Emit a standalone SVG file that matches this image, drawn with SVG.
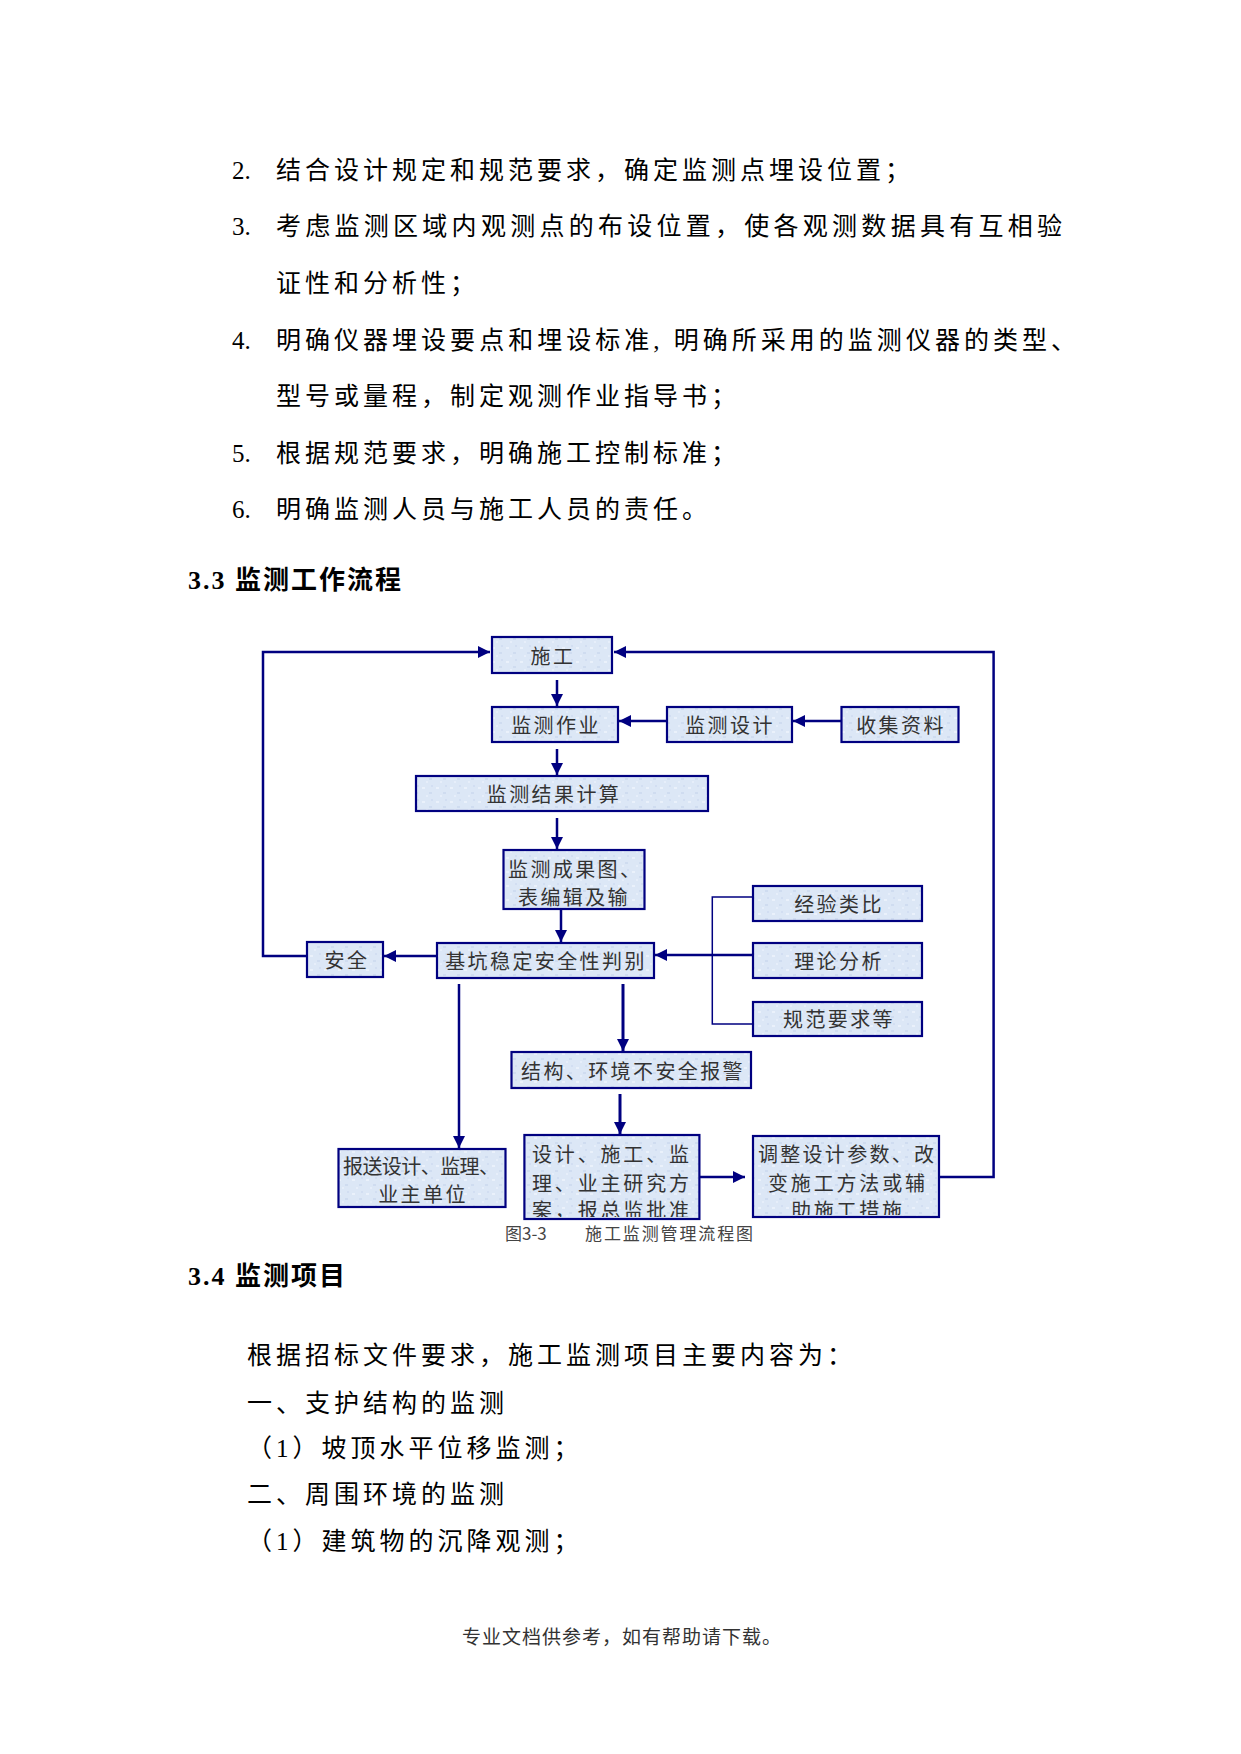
<svg xmlns="http://www.w3.org/2000/svg" width="1241" height="1754" viewBox="0 0 1241 1754">
<defs>
<style>
.body{font-family:"Liberation Serif","Noto Sans CJK SC",serif;font-size:25px;fill:#000;letter-spacing:4px;dominant-baseline:central}
.num{font-family:"Liberation Serif",serif;font-size:25px;fill:#000;dominant-baseline:central}
.head{font-family:"Liberation Serif","Noto Sans CJK SC",serif;font-size:26px;font-weight:700;fill:#000;letter-spacing:2px;dominant-baseline:central}
.box{fill:url(#tex);stroke:#000080;stroke-width:2.2}
.bt{font-family:"Noto Sans CJK SC",sans-serif;font-size:20px;fill:#333;letter-spacing:2.4px;dominant-baseline:central}
.c{text-anchor:middle}
.ln{fill:none;stroke:#000080;stroke-width:2.5}
.thin{fill:none;stroke:#000080;stroke-width:1.5}
.cap{font-family:"Noto Sans CJK SC",sans-serif;font-size:17px;fill:#444;dominant-baseline:central}
.foot{font-family:"Noto Sans CJK SC",sans-serif;font-size:19px;fill:#333;letter-spacing:1px;dominant-baseline:central}
</style>
<pattern id="tex" width="14" height="14" patternUnits="userSpaceOnUse">
<rect width="14" height="14" fill="#dce7f6"/>
<rect x="2" y="3" width="3" height="2" fill="#eaf1fb"/>
<rect x="9" y="8" width="3" height="2" fill="#cfdcf0"/>
<rect x="6" y="11" width="2" height="2" fill="#e6eefa"/>
<rect x="11" y="1" width="2" height="2" fill="#d2def2"/>
</pattern>
<marker id="ah" markerWidth="12" markerHeight="12" refX="12" refY="6" orient="auto" markerUnits="userSpaceOnUse">
<path d="M0,0 L12,6 L0,12 z" fill="#000080"/>
</marker>
<clipPath id="clipA"><rect x="524" y="1135" width="175" height="82"/></clipPath>
<clipPath id="clipB"><rect x="753" y="1136" width="186" height="79"/></clipPath>
</defs>
<rect width="1241" height="1754" fill="#fff"/>

<g id="text-top">
<text class="num" x="232" y="170">2.</text>
<text class="body" x="276" y="170">结合设计规定和规范要求，确定监测点埋设位置；</text>
<text class="num" x="232" y="226">3.</text>
<text class="body" x="276" y="226" textLength="786" lengthAdjust="spacing" style="letter-spacing:0">考虑监测区域内观测点的布设位置，使各观测数据具有互相验</text>
<text class="body" x="276" y="283">证性和分析性；</text>
<text class="num" x="232" y="340">4.</text>
<text class="body" x="276" y="340" textLength="800" lengthAdjust="spacing" style="letter-spacing:0">明确仪器埋设要点和埋设标准, 明确所采用的监测仪器的类型、</text>
<text class="body" x="276" y="396">型号或量程，制定观测作业指导书；</text>
<text class="num" x="232" y="453">5.</text>
<text class="body" x="276" y="453">根据规范要求，明确施工控制标准；</text>
<text class="num" x="232" y="509">6.</text>
<text class="body" x="276" y="509">明确监测人员与施工人员的责任。</text>
<text class="head" x="188" y="580">3.3 监测工作流程</text>
</g>

<g id="connectors">
<path class="ln" d="M307,956 H263 V652 H490" marker-end="url(#ah)"/>
<path class="ln" d="M939,1177 H993.6 V652 H614" marker-end="url(#ah)"/>
<path class="ln" d="M557,680 V706" marker-end="url(#ah)"/>
<path class="ln" d="M557,749 V775" marker-end="url(#ah)"/>
<path class="ln" d="M557,818 V849" marker-end="url(#ah)"/>
<path class="ln" d="M561,909 V942" marker-end="url(#ah)"/>
<path class="ln" d="M666.6,721 H619" marker-end="url(#ah)"/>
<path class="ln" d="M841.5,721 H793" marker-end="url(#ah)"/>
<path class="ln" d="M753,955 H655" marker-end="url(#ah)"/>
<path class="ln" d="M437,956 H384" marker-end="url(#ah)"/>
<path class="thin" d="M753,897 H712.3 V1024 H753"/>
<path class="ln" d="M459,984 V1148" marker-end="url(#ah)"/>
<path class="ln" d="M623,984 V1051" style="stroke-width:3" marker-end="url(#ah)"/>
<path class="ln" d="M620,1094 V1134" style="stroke-width:3" marker-end="url(#ah)"/>
<path class="ln" d="M699.4,1177 H745" marker-end="url(#ah)"/>
</g>

<g id="n-shigong"><rect class="box" x="492" y="637" width="120" height="36"/><text class="bt c" x="553" y="655">施工</text></g>
<g id="n-zuoye"><rect class="box" x="492" y="707" width="126" height="35"/><text class="bt c" x="556" y="724">监测作业</text></g>
<g id="n-sheji"><rect class="box" x="667" y="707" width="125" height="35"/><text class="bt c" x="730" y="724">监测设计</text></g>
<g id="n-ziliao"><rect class="box" x="841.5" y="707" width="117" height="35"/><text class="bt c" x="901" y="724">收集资料</text></g>
<g id="n-jisuan"><rect class="box" x="416" y="776" width="292" height="35"/><text class="bt c" x="554" y="793">监测结果计算</text></g>
<g id="n-chengguo"><rect class="box" x="503.5" y="850" width="141" height="59"/><text class="bt" x="508" y="868">监测成果图、</text><text class="bt" x="518" y="896">表编辑及输</text></g>
<g id="n-jingyan"><rect class="box" x="753" y="886" width="169" height="35"/><text class="bt c" x="839" y="903">经验类比</text></g>
<g id="n-lilun"><rect class="box" x="753" y="943" width="169" height="35"/><text class="bt c" x="839" y="960">理论分析</text></g>
<g id="n-guifan"><rect class="box" x="753" y="1002" width="169" height="34"/><text class="bt c" x="839" y="1018">规范要求等</text></g>
<g id="n-anquan"><rect class="box" x="307" y="942" width="76" height="35"/><text class="bt c" x="347" y="959">安全</text></g>
<g id="n-panbie"><rect class="box" x="437" y="943" width="217" height="35"/><text class="bt c" x="546" y="960">基坑稳定安全性判别</text></g>
<g id="n-baojing"><rect class="box" x="511.5" y="1052" width="239.5" height="36"/><text class="bt c" x="633" y="1070">结构、环境不安全报警</text></g>
<g id="n-baosong"><rect class="box" x="338.5" y="1149" width="167" height="58"/><text class="bt" x="343" y="1165" textLength="156" lengthAdjust="spacing" style="letter-spacing:0">报送设计、监理、</text><text class="bt c" x="423" y="1193">业主单位</text></g>
<g id="n-yanjiu"><rect class="box" x="524.4" y="1135" width="175" height="84"/><g clip-path="url(#clipA)"><text class="bt" x="532" y="1153" textLength="157" lengthAdjust="spacing" style="letter-spacing:0">设计、施工、监</text><text class="bt" x="532" y="1182" textLength="157" lengthAdjust="spacing" style="letter-spacing:0">理、业主研究方</text><text class="bt" x="532" y="1209" textLength="157" lengthAdjust="spacing" style="letter-spacing:0">案，报总监批准</text></g></g>
<g id="n-tiaozheng"><rect class="box" x="753" y="1136" width="186" height="81"/><g clip-path="url(#clipB)"><text class="bt" x="758" y="1153" textLength="176" lengthAdjust="spacing" style="letter-spacing:0">调整设计参数、改</text><text class="bt" x="768" y="1182" textLength="157" lengthAdjust="spacing" style="letter-spacing:0">变施工方法或辅</text><text class="bt" x="791" y="1209" textLength="111" lengthAdjust="spacing" style="letter-spacing:0">助施工措施</text></g></g>

<g id="caption">
<text class="cap" x="505" y="1232">图3-3</text>
<text class="cap" x="585" y="1232" textLength="168" lengthAdjust="spacing">施工监测管理流程图</text>
</g>

<g id="text-bottom">
<text class="head" x="188" y="1276">3.4 监测项目</text>
<text class="body" x="247" y="1355">根据招标文件要求，施工监测项目主要内容为：</text>
<text class="body" x="247" y="1403">一、支护结构的监测</text>
<text class="body" x="247" y="1448">（1）坡顶水平位移监测；</text>
<text class="body" x="247" y="1494">二、周围环境的监测</text>
<text class="body" x="247" y="1541">（1）建筑物的沉降观测；</text>
<text class="foot c" x="622" y="1635">专业文档供参考，如有帮助请下载。</text>
</g>
</svg>
